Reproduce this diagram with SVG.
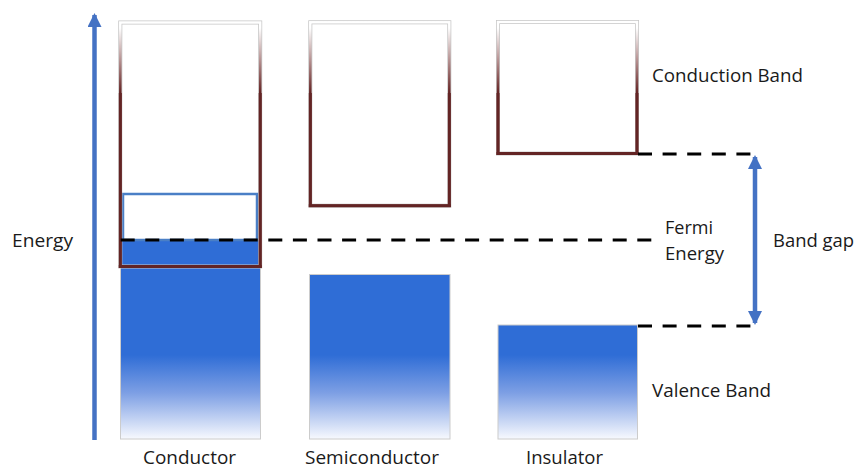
<svg xmlns="http://www.w3.org/2000/svg" width="856" height="468" viewBox="0 0 856 468">
  <defs>
    <linearGradient id="cbStroke" gradientUnits="userSpaceOnUse" x1="0" y1="28" x2="0" y2="93">
      <stop offset="0" stop-color="#ffffff"/>
      <stop offset="0.5" stop-color="#b59090"/>
      <stop offset="1" stop-color="#642222"/>
    </linearGradient>
    <linearGradient id="vbFill" gradientUnits="userSpaceOnUse" x1="0" y1="355" x2="0" y2="439">
      <stop offset="0" stop-color="#2f6dd6"/>
      <stop offset="0.45" stop-color="#7d9fe4"/>
      <stop offset="1" stop-color="#f7f9fe"/>
    </linearGradient>
    <marker id="ah" viewBox="0 0 14 14" refX="12" refY="7" markerWidth="14" markerHeight="14" markerUnits="userSpaceOnUse" orient="auto-start-reverse">
      <path d="M0,0 L14,7 L0,14 Z" fill="#4472c4"/>
    </marker>
  </defs>
  <style>
    text { font-family: "Open Sans", "Liberation Sans", sans-serif; font-size: 18px; fill: #1a1a1a; }
    .cbOuter { fill: none; stroke: #c6c6c6; stroke-width: 4; }
    .cbInner { fill: none; stroke: url(#cbStroke); stroke-width: 2.5; }
    .edge { stroke: #632424; stroke-width: 3; }
    .vb { fill: url(#vbFill); stroke: #cccccc; stroke-width: 1; }
    .dash { stroke: #000000; stroke-width: 3; stroke-dasharray: 14 10.6; fill: none; }
    .arrow { stroke: #4472c4; stroke-width: 4.5; fill: none; }
  </style>
  <rect width="856" height="468" fill="#ffffff"/>

  <g id="energy-axis">
    <line class="arrow" x1="94.5" y1="440" x2="94.5" y2="15" marker-end="url(#ah)"/>
    <text x="12" y="247" textLength="61" lengthAdjust="spacingAndGlyphs">Energy</text>
  </g>

  <g id="conductor">
    <rect class="vb" x="120.5" y="267" width="140" height="172"/>
    <rect x="120.5" y="240" width="139.5" height="26.5" fill="#2f6dd6"/>
    <rect x="123" y="194" width="134" height="46" fill="none" stroke="#4a7fc6" stroke-width="2.5"/>
    <rect class="cbOuter" x="120.3" y="22.5" width="139.9" height="244"/>
    <rect class="cbInner" x="120.3" y="22.5" width="139.9" height="244"/>
    <line class="edge" x1="120.3" y1="93" x2="120.3" y2="268"/>
    <line class="edge" x1="260.2" y1="93" x2="260.2" y2="268"/>
    <line class="edge" x1="118.8" y1="266.5" x2="261.7" y2="266.5"/>
    <text x="143" y="464" textLength="93" lengthAdjust="spacingAndGlyphs">Conductor</text>
  </g>

  <g id="semiconductor">
    <rect class="vb" x="309.5" y="274.5" width="140.5" height="164.5"/>
    <rect class="cbOuter" x="310.3" y="22.3" width="139" height="183.4"/>
    <rect class="cbInner" x="310.3" y="22.3" width="139" height="183.4"/>
    <line class="edge" x1="310.3" y1="93" x2="310.3" y2="207"/>
    <line class="edge" x1="449.3" y1="93" x2="449.3" y2="207"/>
    <line class="edge" x1="308.8" y1="205.7" x2="450.8" y2="205.7"/>
    <text x="305" y="464" textLength="134" lengthAdjust="spacingAndGlyphs">Semiconductor</text>
  </g>

  <g id="insulator">
    <rect class="vb" x="498" y="325" width="139.5" height="114"/>
    <rect class="cbOuter" x="498" y="22" width="139" height="131.5"/>
    <rect class="cbInner" x="498" y="22" width="139" height="131.5"/>
    <line class="edge" x1="498" y1="93" x2="498" y2="155"/>
    <line class="edge" x1="637" y1="93" x2="637" y2="155"/>
    <line class="edge" x1="496.5" y1="153.5" x2="638.5" y2="153.5"/>
    <text x="526" y="464" textLength="77" lengthAdjust="spacingAndGlyphs">Insulator</text>
  </g>

  <g id="connectors">
    <line class="dash" x1="120.7" y1="240" x2="652" y2="240"/>
    <line class="dash" x1="638" y1="154" x2="751" y2="154"/>
    <line class="dash" x1="638" y1="326" x2="751" y2="326"/>
    <line class="arrow" x1="755" y1="157" x2="755" y2="323" marker-start="url(#ah)" marker-end="url(#ah)"/>
  </g>

  <g id="labels">
    <text x="652" y="82" textLength="151" lengthAdjust="spacingAndGlyphs">Conduction Band</text>
    <text x="665" y="234" textLength="48" lengthAdjust="spacingAndGlyphs">Fermi</text>
    <text x="665" y="260" textLength="59" lengthAdjust="spacingAndGlyphs">Energy</text>
    <text x="773" y="247" textLength="81" lengthAdjust="spacingAndGlyphs">Band gap</text>
    <text x="652" y="397" textLength="119" lengthAdjust="spacingAndGlyphs">Valence Band</text>
  </g>
</svg>
